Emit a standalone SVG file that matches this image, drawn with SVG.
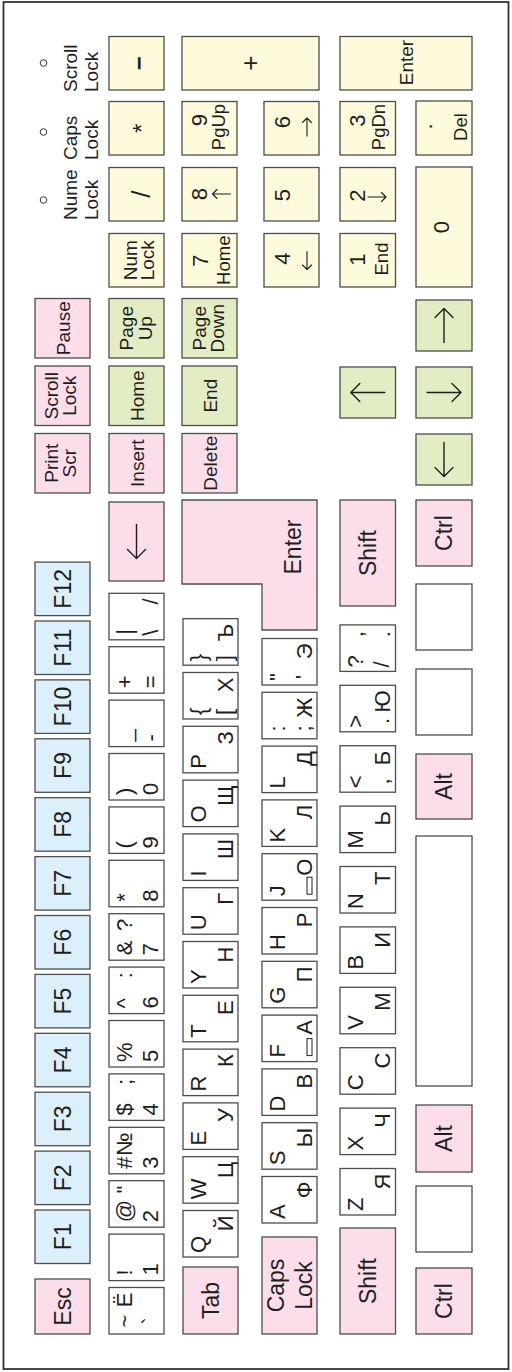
<svg xmlns="http://www.w3.org/2000/svg" width="512" height="1372" viewBox="0 0 512 1372">
<style>
.k{stroke:#4d4d4d;stroke-width:1.3}
.w{fill:#fff}.p{fill:#fbdeea}.b{fill:#dcf0fb}.g{fill:#e3edc4}.y{fill:#fefbdc}
text{font-family:"Liberation Sans",Arial,sans-serif;fill:#1e1e1e;font-size:22px}
.e{text-anchor:end}
.m{text-anchor:middle}
.big{font-size:23px;text-anchor:middle}
.s{font-size:19px;text-anchor:middle}
.t{font-size:18.5px;text-anchor:middle}
.arr{fill:none;stroke:#1e1e1e;stroke-width:1.4;stroke-linecap:round;stroke-linejoin:round}
.arr2{fill:none;stroke:#1e1e1e;stroke-width:1.1;stroke-linecap:round;stroke-linejoin:round}
.led{fill:none;stroke:#333;stroke-width:1}
.bump{fill:none;stroke:#1e1e1e;stroke-width:1}
</style>
<defs>
<path id="ar" class="arr" d="M-17,0H17M-8,-9L-17,0L-8,9"/>
<path id="sa" class="arr2" d="M-9,0H9M-4.5,-4.5L-9,0L-4.5,4.5"/>
</defs>
<rect id="frame" x="3.5" y="2" width="505" height="1367" fill="#fff" stroke="#333" stroke-width="1.8"/>
<g id="keyboard" transform="matrix(0 -1 1 0 0 1372)">
<g id="leds">
<circle class="led" cx="1309" cy="43.5" r="3.3"/><text x="1280" y="77" style="font-size:19px">Scroll</text><text x="1280" y="98" style="font-size:19px">Lock</text>
<circle class="led" cx="1240" cy="43.5" r="3.3"/><text x="1212" y="77" style="font-size:19px">Caps</text><text x="1212" y="98" style="font-size:19px">Lock</text>
<circle class="led" cx="1172" cy="43.5" r="3.3"/><text x="1152" y="77" style="font-size:19px">Nume</text><text x="1152" y="98" style="font-size:19px">Lock</text>
</g>
<g id="k-esc"><rect class="k p" x="38" y="35" width="55" height="55"/><text class="big" x="65.5" y="71">Esc</text></g>
<g id="k-f1"><rect class="k b" x="108.5" y="35" width="53.5" height="55"/><text class="big" x="135.3" y="71">F1</text></g>
<g id="k-f2"><rect class="k b" x="167.4" y="35" width="53.5" height="55"/><text class="big" x="194.2" y="71">F2</text></g>
<g id="k-f3"><rect class="k b" x="226.3" y="35" width="53.5" height="55"/><text class="big" x="253.1" y="71">F3</text></g>
<g id="k-f4"><rect class="k b" x="285.2" y="35" width="53.5" height="55"/><text class="big" x="312" y="71">F4</text></g>
<g id="k-f5"><rect class="k b" x="344.1" y="35" width="53.5" height="55"/><text class="big" x="370.9" y="71">F5</text></g>
<g id="k-f6"><rect class="k b" x="403" y="35" width="53.5" height="55"/><text class="big" x="429.8" y="71">F6</text></g>
<g id="k-f7"><rect class="k b" x="461.9" y="35" width="53.5" height="55"/><text class="big" x="488.7" y="71">F7</text></g>
<g id="k-f8"><rect class="k b" x="520.8" y="35" width="53.5" height="55"/><text class="big" x="547.6" y="71">F8</text></g>
<g id="k-f9"><rect class="k b" x="579.7" y="35" width="53.5" height="55"/><text class="big" x="606.5" y="71">F9</text></g>
<g id="k-f10"><rect class="k b" x="638.6" y="35" width="53.5" height="55"/><text class="big" x="665.4" y="71">F10</text></g>
<g id="k-f11"><rect class="k b" x="697.5" y="35" width="53.5" height="55"/><text class="big" x="724.3" y="71">F11</text></g>
<g id="k-f12"><rect class="k b" x="756.4" y="35" width="53.5" height="55"/><text class="big" x="783.2" y="71">F12</text></g>
<g id="k-prtscr"><rect class="k p" x="879" y="35" width="59.5" height="55"/><text class="s" x="908.8" y="58">Print</text><text class="s" x="908.8" y="76">Scr</text></g>
<g id="k-scrlk"><rect class="k p" x="946.5" y="35" width="59.5" height="55"/><text class="s" x="976.3" y="58">Scroll</text><text class="s" x="976.3" y="76">Lock</text></g>
<g id="k-pause"><rect class="k p" x="1014" y="35" width="59.5" height="55"/><text class="s" x="1043.8" y="70">Pause</text></g>

<g id="k-grave"><rect class="k w" x="38" y="109" width="46.5" height="55"/><text class="m" x="51" y="132">~</text><text class="m" x="51" y="158">`</text><text class="e" x="79.5" y="132">Ё</text></g>
<g id="k-1"><rect class="k w" x="91.4" y="109" width="46.5" height="55"/><text x="96.4" y="132">!</text><text x="96.4" y="158">1</text></g>
<g id="k-2"><rect class="k w" x="144.8" y="109" width="46.5" height="55"/><text x="149.8" y="132">@</text><text x="149.8" y="158">2</text><text class="e" x="186.3" y="132">"</text></g>
<g id="k-3"><rect class="k w" x="198.2" y="109" width="46.5" height="55"/><text x="203.2" y="132">#</text><text x="203.2" y="158">3</text><text class="e" x="239.7" y="132">№</text></g>
<g id="k-4"><rect class="k w" x="251.6" y="109" width="46.5" height="55"/><text x="256.6" y="132">$</text><text x="256.6" y="158">4</text><text class="e" x="293.1" y="132">;</text></g>
<g id="k-5"><rect class="k w" x="305" y="109" width="46.5" height="55"/><text x="310" y="132">%</text><text x="310" y="158">5</text></g>
<g id="k-6"><rect class="k w" x="358.4" y="109" width="46.5" height="55"/><text x="363.4" y="132">^</text><text x="363.4" y="158">6</text><text class="e" x="399.9" y="132">:</text></g>
<g id="k-7"><rect class="k w" x="411.8" y="109" width="46.5" height="55"/><text x="416.8" y="132">&amp;</text><text x="416.8" y="158">7</text><text class="e" x="453.3" y="132">?</text></g>
<g id="k-8"><rect class="k w" x="465.2" y="109" width="46.5" height="55"/><text x="470.2" y="132">*</text><text x="470.2" y="158">8</text></g>
<g id="k-9"><rect class="k w" x="518.6" y="109" width="46.5" height="55"/><text x="523.6" y="132">(</text><text x="523.6" y="158">9</text></g>
<g id="k-0"><rect class="k w" x="572" y="109" width="46.5" height="55"/><text x="577" y="132">)</text><text x="577" y="158">0</text></g>
<g id="k-minus"><rect class="k w" x="625.4" y="109" width="46.5" height="55"/><text x="630.4" y="132">_</text><text x="630.4" y="158">-</text></g>
<g id="k-equal"><rect class="k w" x="678.8" y="109" width="46.5" height="55"/><text x="683.8" y="132">+</text><text x="683.8" y="158">=</text></g>
<g id="k-bslash"><rect class="k w" x="732.2" y="109" width="46.5" height="55"/><text x="737.2" y="132">|</text><text x="736.2" y="158">\</text><text class="e" x="773.7" y="158">/</text></g>
<g id="k-bksp"><rect class="k p" x="791" y="109" width="79" height="55"/><use href="#ar" transform="translate(830.5,136.5)"/></g>
<g id="k-ins"><rect class="k p" x="879" y="109" width="59.5" height="55"/><text class="s" x="908.8" y="143.5">Insert</text></g>
<g id="k-home"><rect class="k g" x="946.5" y="109" width="59.5" height="55"/><text class="s" x="976.3" y="143.5">Home</text></g>
<g id="k-pgup"><rect class="k g" x="1014" y="109" width="59.5" height="55"/><text class="s" x="1043.8" y="133">Page</text><text class="s" x="1043.8" y="152">Up</text></g>
<g id="n-numlk"><rect class="k y" x="1085" y="109" width="53.5" height="55"/><text class="s" x="1111.8" y="137">Num</text><text class="s" x="1111.8" y="154">Lock</text></g>
<g id="n-div"><rect class="k y" x="1151" y="109" width="53.5" height="55"/><text class="m" x="1177.8" y="149.5" style="font-size:26px">/</text></g>
<g id="n-mul"><rect class="k y" x="1217" y="109" width="53.5" height="55"/><text class="m" x="1243.8" y="150" style="font-size:24px">*</text></g>
<g id="n-sub"><rect class="k y" x="1282" y="109" width="53.5" height="55"/><text class="m" x="1308.8" y="146.5" style="font-size:24px;font-weight:bold">−</text></g>

<g id="k-tab"><rect class="k p" x="38" y="183" width="67" height="55"/><text class="big" x="71.5" y="219">Tab</text></g>
<g id="k-q"><rect class="k w" x="115" y="183" width="46.5" height="55"/><text x="119" y="206">Q</text><text class="e" x="156.5" y="233">Й</text></g>
<g id="k-w"><rect class="k w" x="168.8" y="183" width="46.5" height="55"/><text x="172.8" y="206">W</text><text class="e" x="210.3" y="233">Ц</text></g>
<g id="k-e"><rect class="k w" x="222.6" y="183" width="46.5" height="55"/><text x="226.6" y="206">E</text><text class="e" x="264.1" y="233">У</text></g>
<g id="k-r"><rect class="k w" x="276.4" y="183" width="46.5" height="55"/><text x="280.4" y="206">R</text><text class="e" x="317.9" y="233">К</text></g>
<g id="k-t"><rect class="k w" x="330.2" y="183" width="46.5" height="55"/><text x="334.2" y="206">T</text><text class="e" x="371.7" y="233">Е</text></g>
<g id="k-y"><rect class="k w" x="384" y="183" width="46.5" height="55"/><text x="388" y="206">Y</text><text class="e" x="425.5" y="233">Н</text></g>
<g id="k-u"><rect class="k w" x="437.8" y="183" width="46.5" height="55"/><text x="441.8" y="206">U</text><text class="e" x="479.3" y="233">Г</text></g>
<g id="k-i"><rect class="k w" x="491.6" y="183" width="46.5" height="55"/><text x="495.6" y="206">I</text><text class="e" x="533.1" y="233">Ш</text></g>
<g id="k-o"><rect class="k w" x="545.4" y="183" width="46.5" height="55"/><text x="549.4" y="206">O</text><text class="e" x="586.9" y="233">Щ</text></g>
<g id="k-p"><rect class="k w" x="599.2" y="183" width="46.5" height="55"/><text x="603.2" y="206">P</text><text class="e" x="640.7" y="233">З</text></g>
<g id="k-lbr"><rect class="k w" x="653" y="183" width="46.5" height="55"/><text x="657" y="206">{</text><text x="657" y="232">[</text><text class="e" x="694.5" y="233">Х</text></g>
<g id="k-rbr"><rect class="k w" x="706.8" y="183" width="46.5" height="55"/><text x="710.8" y="206">}</text><text x="710.8" y="232">]</text><text class="e" x="748.3" y="233">Ъ</text></g>
<g id="k-enter"><polygon class="k p" points="742,317 742,262 788,262 788,182 872,182 872,317"/><text class="big" x="825" y="301">Enter</text></g>
<g id="k-del"><rect class="k p" x="879" y="182" width="59.5" height="55"/><text class="s" x="908.8" y="216.5">Delete</text></g>
<g id="k-end"><rect class="k g" x="946.5" y="182" width="59.5" height="55"/><text class="s" x="976.3" y="216.5">End</text></g>
<g id="k-pgdn"><rect class="k g" x="1014" y="182" width="59.5" height="55"/><text class="s" x="1043.8" y="205.5">Page</text><text class="s" x="1043.8" y="224">Down</text></g>
<g id="n-7"><rect class="k y" x="1085" y="182" width="53.5" height="55"/><text class="m" x="1111.5" y="208">7</text><text class="t" x="1111.8" y="230">Home</text></g>
<g id="n-8"><rect class="k y" x="1151" y="182" width="53.5" height="55"/><text class="m" x="1178" y="207">8</text><use href="#sa" transform="translate(1178,221.5) rotate(90)"/></g>
<g id="n-9"><rect class="k y" x="1217" y="182" width="53.5" height="55"/><text class="m" x="1252" y="207">9</text><text class="t" x="1245" y="225">PgUp</text></g>
<g id="n-add"><rect class="k y" x="1282" y="182" width="53.5" height="137"/><text class="m" x="1308.8" y="259" style="font-size:26px">+</text></g>

<g id="k-caps"><rect class="k p" x="38" y="262" width="97" height="55"/><text class="big" x="86.5" y="284">Caps</text><text class="big" x="86.5" y="312">Lock</text></g>
<g id="k-a"><rect class="k w" x="149" y="262" width="46.5" height="55"/><text x="153" y="285">A</text><text class="e" x="190.5" y="312">Ф</text></g>
<g id="k-s"><rect class="k w" x="202.8" y="262" width="46.5" height="55"/><text x="206.8" y="285">S</text><text class="e" x="244.3" y="312">Ы</text></g>
<g id="k-d"><rect class="k w" x="256.6" y="262" width="46.5" height="55"/><text x="260.6" y="285">D</text><text class="e" x="298.1" y="312">В</text></g>
<g id="k-f"><rect class="k w" x="310.4" y="262" width="46.5" height="55"/><text x="314.4" y="285">F</text><text class="e" x="351.9" y="312">А</text><rect class="bump" x="316.4" y="307" width="17" height="5"/></g>
<g id="k-g"><rect class="k w" x="364.2" y="262" width="46.5" height="55"/><text x="368.2" y="285">G</text><text class="e" x="405.7" y="312">П</text></g>
<g id="k-h"><rect class="k w" x="418" y="262" width="46.5" height="55"/><text x="422" y="285">H</text><text class="e" x="459.5" y="312">Р</text></g>
<g id="k-j"><rect class="k w" x="471.8" y="262" width="46.5" height="55"/><text x="475.8" y="285">J</text><text class="e" x="513.3" y="312">О</text><rect class="bump" x="477.8" y="307" width="17" height="5"/></g>
<g id="k-k"><rect class="k w" x="525.6" y="262" width="46.5" height="55"/><text x="529.6" y="285">K</text><text class="e" x="567.1" y="312">Л</text></g>
<g id="k-l"><rect class="k w" x="579.4" y="262" width="46.5" height="55"/><text x="583.4" y="285">L</text><text class="e" x="620.9" y="312">Д</text></g>
<g id="k-semi"><rect class="k w" x="633.2" y="262" width="46.5" height="55"/><text class="m" x="643.5" y="285">:</text><text class="m" x="643.5" y="311">;</text><text class="e" x="674.7" y="312">Ж</text></g>
<g id="k-quote"><rect class="k w" x="687" y="262" width="46.5" height="55"/><text class="m" x="695" y="285">"</text><text class="m" x="695" y="311">'</text><text class="e" x="728.5" y="312">Э</text></g>
<g id="n-4"><rect class="k y" x="1085" y="264" width="53.5" height="55"/><text class="m" x="1113.5" y="290">4</text><use href="#sa" transform="translate(1111.5,307)"/></g>
<g id="n-5"><rect class="k y" x="1151" y="264" width="53.5" height="55"/><text class="m" x="1177" y="290">5</text></g>
<g id="n-6"><rect class="k y" x="1217" y="264" width="53.5" height="55"/><text class="m" x="1250" y="290">6</text><use href="#sa" transform="translate(1245,307) rotate(180)"/></g>

<g id="k-lshift"><rect class="k p" x="38" y="340" width="106" height="55.5"/><text class="big" x="91" y="376">Shift</text></g>
<g id="k-z"><rect class="k w" x="157" y="340" width="46.5" height="55.5"/><text x="161" y="363">Z</text><text class="e" x="198.5" y="390">Я</text></g>
<g id="k-x"><rect class="k w" x="217.4" y="340" width="46.5" height="55.5"/><text x="221.4" y="363">X</text><text class="e" x="258.9" y="390">Ч</text></g>
<g id="k-c"><rect class="k w" x="277.8" y="340" width="46.5" height="55.5"/><text x="281.8" y="363">C</text><text class="e" x="319.3" y="390">С</text></g>
<g id="k-v"><rect class="k w" x="338.2" y="340" width="46.5" height="55.5"/><text x="342.2" y="363">V</text><text class="e" x="379.7" y="390">М</text></g>
<g id="k-b"><rect class="k w" x="398.6" y="340" width="46.5" height="55.5"/><text x="402.6" y="363">B</text><text class="e" x="440.1" y="390">И</text></g>
<g id="k-n"><rect class="k w" x="459" y="340" width="46.5" height="55.5"/><text x="463" y="363">N</text><text class="e" x="500.5" y="390">Т</text></g>
<g id="k-m"><rect class="k w" x="519.4" y="340" width="46.5" height="55.5"/><text x="523.4" y="363">M</text><text class="e" x="560.9" y="390">Ь</text></g>
<g id="k-comma"><rect class="k w" x="579.8" y="340" width="46.5" height="55.5"/><text x="583.8" y="363">&lt;</text><text class="m" x="590.5" y="389">,</text><text class="e" x="621.3" y="390">Б</text></g>
<g id="k-period"><rect class="k w" x="640.2" y="340" width="46.5" height="55.5"/><text x="644.2" y="363">&gt;</text><text class="m" x="651" y="389">.</text><text class="e" x="681.7" y="390">Ю</text></g>
<g id="k-slash"><rect class="k w" x="700.6" y="340" width="46.5" height="55.5"/><text x="704.6" y="363">?</text><text x="704.6" y="389">/</text><text class="e" x="741" y="363">,</text><text class="e" x="741" y="390">.</text></g>
<g id="k-rshift"><rect class="k p" x="766" y="340" width="106" height="55.5"/><text class="big" x="819" y="376">Shift</text></g>
<g id="k-up"><rect class="k g" x="954" y="340" width="51" height="55.5"/><use href="#ar" transform="translate(979.5,367.8) rotate(90)"/></g>
<g id="n-1"><rect class="k y" x="1085" y="340" width="53.5" height="55.5"/><text class="m" x="1112.5" y="365">1</text><text class="t" x="1113" y="388">End</text></g>
<g id="n-2"><rect class="k y" x="1151" y="340" width="53.5" height="55.5"/><text class="m" x="1176.5" y="365">2</text><use href="#sa" transform="translate(1175,377) rotate(-90)"/></g>
<g id="n-3"><rect class="k y" x="1217" y="340" width="53.5" height="55.5"/><text class="m" x="1251.5" y="365">3</text><text class="t" x="1245" y="385">PgDn</text></g>
<g id="n-enter"><rect class="k y" x="1282" y="340" width="53.5" height="132"/><text class="s" x="1309.5" y="413">Enter</text></g>

<g id="k-lctrl"><rect class="k p" x="38" y="416" width="66" height="56"/><text class="big" x="71" y="452">Ctrl</text></g>
<g id="k-lwin"><rect class="k w" x="120" y="416" width="66" height="56"/></g>
<g id="k-lalt"><rect class="k p" x="200" y="416" width="67" height="56"/><text class="big" x="233.5" y="452">Alt</text></g>
<g id="k-space"><rect class="k w" x="286" y="416" width="250" height="56"/></g>
<g id="k-ralt"><rect class="k p" x="553" y="416" width="65" height="56"/><text class="big" x="585.5" y="452">Alt</text></g>
<g id="k-rwin"><rect class="k w" x="637" y="416" width="66" height="56"/></g>
<g id="k-menu"><rect class="k w" x="722" y="416" width="66" height="56"/></g>
<g id="k-rctrl"><rect class="k p" x="806" y="416" width="66" height="56"/><text class="big" x="839" y="452">Ctrl</text></g>
<g id="k-left"><rect class="k g" x="887" y="416" width="51" height="56"/><use href="#ar" transform="translate(912.5,444)"/></g>
<g id="k-down"><rect class="k g" x="954" y="416" width="51" height="56"/><use href="#ar" transform="translate(979.5,444) rotate(-90)"/></g>
<g id="k-right"><rect class="k g" x="1021" y="416" width="51" height="56"/><use href="#ar" transform="translate(1046.5,444) rotate(180)"/></g>
<g id="n-0"><rect class="k y" x="1085" y="416" width="120" height="56"/><text class="m" x="1145" y="449">0</text></g>
<g id="n-dec"><rect class="k y" x="1217" y="416" width="54" height="56"/><text class="m" x="1245.5" y="432">.</text><text class="t" x="1245" y="467">Del</text></g>
</g>
</svg>
